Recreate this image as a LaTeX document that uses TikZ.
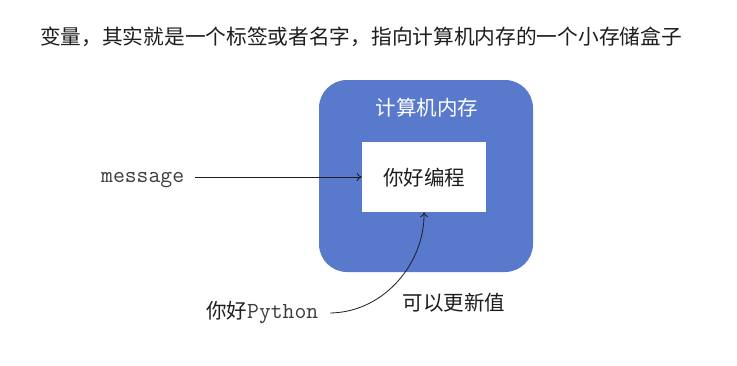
\documentclass[tikz,border=0pt]{standalone}
\usepackage{fontspec}
\setmainfont{Noto Sans CJK SC}
\usetikzlibrary{arrows.meta}
\definecolor{memblue}{RGB}{88,121,204}
\definecolor{codegray}{RGB}{60,60,60}
\definecolor{inktext}{RGB}{30,30,30}
\tikzset{
  cjk/.style={font=\fontsize{20.5}{24}\selectfont, text=inktext, inner sep=0pt},
  code/.style={font=\ttfamily\fontsize{23}{26}\selectfont, text=codegray, inner sep=0pt},
  pointer/.style={draw=inktext, line width=0.8pt, -{To[length=5pt,width=8pt]}},
}
\begin{document}
\begin{tikzpicture}[x=1pt,y=-1pt]
  \useasboundingbox (0,0) rectangle (737,365);
  \fill[white] (0,0) rectangle (737,365);

  % heading
  \node[cjk, anchor=west, font=\fontsize{20.7}{24}\selectfont] (title) at (40,37) {变量，其实就是一个标签或者名字，指向计算机内存的一个小存储盒子};

  % memory block with its storage cell
  \node[fill=memblue, rounded corners=28pt, minimum width=214pt, minimum height=192pt,
        inner sep=0pt] (mem) at (426,176) {};
  \node[cjk, text=white] (memlabel) at (427,108) {计算机内存};
  \node[fill=white, minimum width=124pt, minimum height=70pt, inner sep=0pt] (cell) at (424,177) {};
  \node[cjk] (value) at (424,178) {你好编程};

  % variable name pointing at the cell
  \node[code, anchor=west] (name) at (101,180) {message};
  \draw[pointer] ([xshift=11pt]name.east |- cell.west) -- (cell.west);

  % new value re-bound to the cell
  \node[anchor=west, inner sep=0pt] (newval) at (206,313)
       {\fontsize{20.5}{24}\selectfont\color{inktext}你好{\ttfamily\fontsize{23}{26}\selectfont\color{codegray}Python}};
  \coordinate (curvestart) at ([xshift=12pt]newval.east);
  \draw[pointer] (curvestart) .. controls (385,312) and (425,262) .. (cell.south);

  \node[cjk] (note) at (454,303) {可以更新值};
\end{tikzpicture}
\end{document}
